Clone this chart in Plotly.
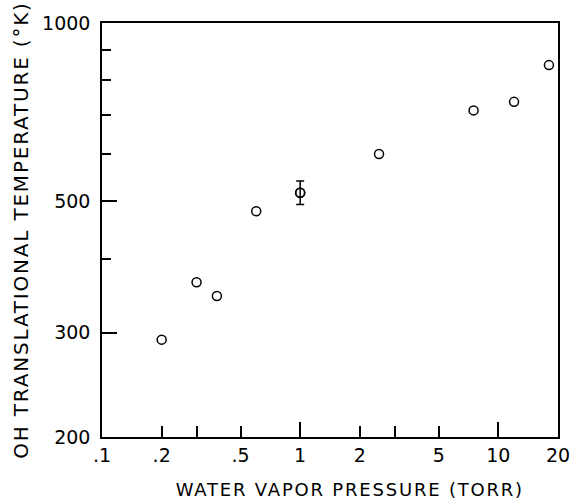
import plotly.graph_objects as go

pressure = [0.2, 0.3, 0.38, 0.6, 1.0, 2.5, 7.5, 12, 18]
temperature = [292, 365, 346, 481, 517, 601, 712, 736, 849]
err_up = [0, 0, 0, 0, 24, 0, 0, 0, 0]
err_dn = [0, 0, 0, 0, 23, 0, 0, 0, 0]

x_tickvals = [0.1, 0.2, 0.5, 1, 2, 5, 10, 20]
x_ticktext = [".1", ".2", ".5", "1", "2", "5", "10", "20"]
x_minor = [0.3, 3]
x_major_long = [1, 10]
y_tickvals = [200, 300, 500, 1000]
y_ticktext = ["200", "300", "500", "1000"]
y_minor = [400, 600, 700, 800, 900]

x_title = "WATER VAPOR PRESSURE (TORR)"
y_title = "OH TRANSLATIONAL TEMPERATURE (°K)"

FONT = "DejaVu Sans"
marker = dict(symbol="circle-open", size=9, color="black", line=dict(width=1.5, color="black"))

fig = go.Figure()
fig.add_trace(go.Scatter(
    x=pressure, y=temperature, mode="markers", marker=marker,
    showlegend=False,
))
idx = [i for i in range(len(pressure)) if err_up[i] > 0 or err_dn[i] > 0]
fig.add_trace(go.Scatter(
    x=[pressure[i] for i in idx], y=[temperature[i] for i in idx], mode="markers", marker=marker,
    error_y=dict(type="data", symmetric=False,
                 array=[err_up[i] for i in idx], arrayminus=[err_dn[i] for i in idx],
                 color="black", thickness=1.5, width=4),
    showlegend=False,
))
fig.add_trace(go.Scatter(x=[1], y=[None], xaxis="x2", yaxis="y", mode="markers",
                         showlegend=False, hoverinfo="skip"))

fig.update_layout(
    width=574, height=500,
    margin=dict(l=102, r=16, t=23, b=63),
    paper_bgcolor="white", plot_bgcolor="white",
    font=dict(family=FONT, color="black"),
    xaxis=dict(
        type="log", range=[-1, 1.30103], automargin=False,
        tickvals=x_tickvals, ticktext=x_ticktext,
        ticks="inside", ticklen=11, tickwidth=2, tickcolor="black",
        minor=dict(tickvals=x_minor, ticks="inside", ticklen=11, tickwidth=2, tickcolor="black"),
        showline=True, linecolor="black", linewidth=1.5, mirror=True,
        showgrid=False, zeroline=False,
        tickfont=dict(size=19, family=FONT),
    ),
    xaxis2=dict(
        type="log", range=[-1, 1.30103], overlaying="x", anchor="y", side="bottom", automargin=False,
        tickvals=x_major_long, showticklabels=False,
        ticks="inside", ticklen=15, tickwidth=2, tickcolor="black",
        showline=False, showgrid=False, zeroline=False,
    ),
    yaxis=dict(
        type="log", range=[2.30103, 3], automargin=False,
        tickvals=y_tickvals, ticktext=y_ticktext,
        ticks="inside", ticklen=15, tickwidth=2, tickcolor="black",
        minor=dict(tickvals=y_minor, ticks="inside", ticklen=9, tickwidth=2, tickcolor="black"),
        showline=True, linecolor="black", linewidth=1.5, mirror=True,
        showgrid=False, zeroline=False,
        tickfont=dict(size=19, family=FONT),
        ticklabelstandoff=6,
        title=dict(text=y_title, font=dict(size=20, family=FONT), standoff=8),
    ),
    annotations=[dict(
        text=x_title, xref="paper", yref="paper", x=0.544, y=-0.128,
        xanchor="center", yanchor="middle", showarrow=False,
        font=dict(size=18, family=FONT, color="black"),
    )],
)

css = ("var s=document.createElement('style');"
       "s.textContent='html,body{margin:0;padding:0;overflow:hidden;}"
       ".ytitle,.annotation-text{letter-spacing:1.8px;}';"
       "document.head.appendChild(s);")
fig.write_html("out.html", post_script=css, config={"displayModeBar": False})
